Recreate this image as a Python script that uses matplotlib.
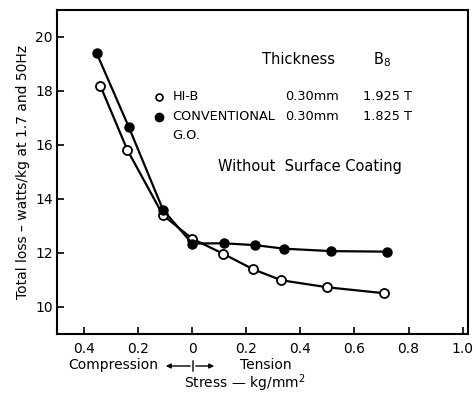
import matplotlib
matplotlib.use("Agg")
import matplotlib.pyplot as plt

# stress in kg/mm^2 (negative = compression), loss in W/kg
hib_stress = [-0.34, -0.24, -0.108, 0.0, 0.113, 0.225, 0.33, 0.50, 0.71]
hib_loss = [18.2, 15.82, 13.4, 12.53, 11.98, 11.4, 10.99, 10.73, 10.51]

conv_stress = [-0.353, -0.235, -0.108, 0.0, 0.116, 0.234, 0.34, 0.513, 0.72]
conv_loss = [19.39, 16.68, 13.6, 12.35, 12.36, 12.29, 12.16, 12.07, 12.05]

x_ticks = [-0.4, -0.2, 0.0, 0.2, 0.4, 0.6, 0.8, 1.0]
x_labels = ["0.4", "0.2", "0", "0.2", "0.4", "0.6", "0.8", "1.0"]
y_ticks = [10, 12, 14, 16, 18, 20]

W, H = 476, 394
fig = plt.figure(figsize=(W / 100, H / 100), dpi=100)
ax = fig.add_axes([57 / W, 1 - 334 / H, (468 - 57) / W, (334 - 10) / H])

ax.plot(hib_stress, hib_loss, color="black", lw=1.6, marker="o", ms=6.5,
        mfc="white", mec="black", mew=1.3, zorder=3)
ax.plot(conv_stress, conv_loss, color="black", lw=1.6, marker="o", ms=6.5,
        mfc="black", mec="black", zorder=3)

ax.set_xlim(-0.5, 1.02)
ax.set_ylim(9, 21)
ax.set_xticks(x_ticks)
ax.set_xticklabels(x_labels)
ax.set_yticks(y_ticks)
ax.tick_params(direction="in", length=5, width=1.2, labelsize=10, colors="black")
ax.tick_params(axis="x", pad=6)
ax.tick_params(axis="y", pad=3)
for s in ax.spines.values():
    s.set_linewidth(1.5)

ax.set_ylabel("Total loss \u2013 watts/kg at 1.7 and 50Hz", fontsize=10, labelpad=4)

# key / annotation block
fs = 9.3
ax.text(0.259, 19.15, "Thickness", fontsize=10.5, va="center")
ax.text(0.667, 19.15, "B$_8$", fontsize=10.5, va="center")

ax.plot([-0.122], [17.78], marker="o", ms=5, mfc="white", mec="black", mew=1.2, ls="none")
ax.text(-0.072, 17.78, "HI-B", fontsize=fs, va="center")
ax.text(0.541, 17.78, "0.30mm", fontsize=fs, va="center", ha="right")
ax.text(0.63, 17.78, "1.925 T", fontsize=fs, va="center")

ax.plot([-0.122], [17.04], marker="o", ms=6, mfc="black", mec="black", ls="none")
ax.text(-0.072, 17.04, "CONVENTIONAL", fontsize=fs, va="center")
ax.text(0.541, 17.04, "0.30mm", fontsize=fs, va="center", ha="right")
ax.text(0.63, 17.04, "1.825 T", fontsize=fs, va="center")
ax.text(-0.072, 16.37, "G.O.", fontsize=fs, va="center")

ax.text(0.096, 15.22, "Without  Surface Coating", fontsize=10.5, va="center")

# labels under the x axis
def fx(px):
    return px / W

def fy(py):
    return 1 - py / H

fig.text(fx(158), fy(365), "Compression", fontsize=10, ha="right", va="center")
fig.text(fx(240), fy(365), "Tension", fontsize=10, ha="left", va="center")
fig.text(fx(245), fy(383), "Stress \u2014 kg/mm$^2$", fontsize=10, ha="center", va="center")

ax.annotate("", xy=(fx(163), fy(366)), xytext=(fx(193), fy(366)),
            xycoords="figure fraction", textcoords="figure fraction",
            arrowprops=dict(arrowstyle="-|>", lw=1, color="black", mutation_scale=7))
ax.annotate("", xy=(fx(217), fy(366)), xytext=(fx(193), fy(366)),
            xycoords="figure fraction", textcoords="figure fraction",
            arrowprops=dict(arrowstyle="-|>", lw=1, color="black", mutation_scale=7))
ax.annotate("", xy=(fx(193), fy(358)), xytext=(fx(193), fy(374)),
            xycoords="figure fraction", textcoords="figure fraction",
            arrowprops=dict(arrowstyle="-", lw=1, color="black"))

fig.savefig("out.png", dpi=100)
